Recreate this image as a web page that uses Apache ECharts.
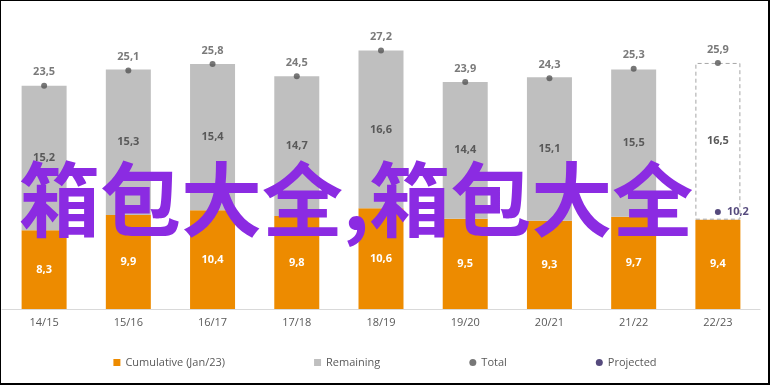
<!DOCTYPE html>
<html>
<head>
<meta charset="utf-8">
<script src="https://cdn.jsdelivr.net/npm/echarts@6/dist/echarts.min.js"></script>
<style>html,body{margin:0;padding:0;background:#fff}#c{width:770px;height:385px}</style>
</head>
<body>
<div id="c"></div>
<script>
const categories = ['14/15','15/16','16/17','17/18','18/19','19/20','20/21','21/22','22/23'];
const cumulative = [8.3, 9.9, 10.4, 9.8, 10.6, 9.5, 9.3, 9.7, 9.4];
const remaining = [15.2, 15.3, 15.4, 14.7, 16.6, 14.4, 15.1, 15.5, 16.5];
const total = [23.5, 25.1, 25.8, 24.5, 27.2, 23.9, 24.3, 25.3, 25.9];
const projected = [null, null, null, null, null, null, null, null, 10.2];
const watermark = '箱包大全,箱包大全';

const fmt = v => v.toFixed(1).replace('.', ',');
const lblFont = { fontFamily: 'Open Sans', fontWeight: 'bold', fontSize: 11 };

const chart = echarts.init(document.getElementById('c'), null, { renderer: 'canvas' });
const lastIdx = categories.length - 1;
chart.setOption({
  animation: false,
  textStyle: { fontFamily: 'Open Sans' },
  grid: { left: 2, right: 10, top: 24, bottom: 76 },
  legend: {
    bottom: 12,
    left: 'center',
    itemWidth: 7,
    itemHeight: 7,
    itemGap: 89,
    textStyle: { color: '#595959', fontSize: 11, fontFamily: 'Open Sans' },
    data: [
      { name: 'Cumulative (Jan/23)', icon: 'rect' },
      { name: 'Remaining', icon: 'rect' },
      { name: 'Total', icon: 'circle' },
      { name: 'Projected', icon: 'circle' }
    ]
  },
  xAxis: {
    type: 'category',
    data: categories,
    axisLine: { lineStyle: { color: '#d9d9d9' } },
    axisTick: { show: false },
    axisLabel: { color: '#595959', fontSize: 11, margin: 8 }
  },
  yAxis: {
    type: 'value', min: 0, max: 30, show: false,
    splitLine: { show: false }
  },
  series: [
    {
      name: 'Cumulative (Jan/23)', type: 'bar', stack: 's', barWidth: 45,
      itemStyle: { color: '#ed8b00' },
      label: { show: true, position: 'inside', color: '#fff', ...lblFont, formatter: p => fmt(p.value) },
      data: cumulative
    },
    {
      name: 'Remaining', type: 'bar', stack: 's', barWidth: 45,
      itemStyle: { color: '#bfbfbf' },
      label: { show: true, position: 'inside', color: '#595959', ...lblFont, formatter: p => fmt(p.value) },
      data: remaining.map((v, i) => i === lastIdx ? {
        value: v,
        itemStyle: { color: 'rgba(0,0,0,0)', borderColor: '#a6a6a6', borderWidth: 1, borderType: [4, 3] }
      } : v)
    },
    {
      name: 'Total', type: 'scatter', symbol: 'circle', symbolSize: 6,
      itemStyle: { color: '#555555' },
      label: { show: true, position: 'top', distance: 5, color: '#595959', ...lblFont, formatter: p => fmt(p.value) },
      data: total, z: 5
    },
    {
      name: 'Projected', type: 'scatter', symbol: 'circle', symbolSize: 6,
      itemStyle: { color: '#2b1d5c' },
      label: { show: true, position: 'right', distance: 6, color: '#2b1d5c', ...lblFont, formatter: p => fmt(p.value) },
      data: projected, z: 5
    }
  ],
  graphic: [
    {
      type: 'text', left: 19, top: 159, z: 100,
      style: { text: watermark, fill: '#8b2be2', font: 'bold 81px "Noto Sans CJK SC"' }
    },
    {
      type: 'rect', z: 100, silent: true,
      shape: { x: 0, y: 0, width: 769, height: 384 },
      style: { fill: 'none', stroke: '#000', lineWidth: 2 }
    }
  ]
});
</script>
</body>
</html>
